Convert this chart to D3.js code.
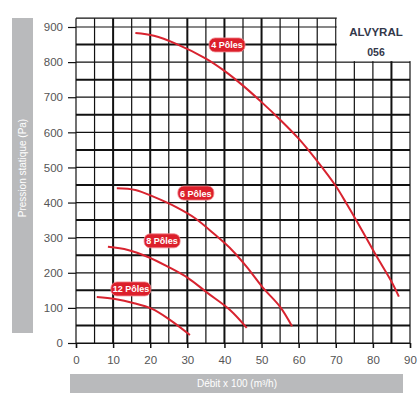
<!DOCTYPE html>
<html>
<head>
<meta charset="utf-8">
<script src="https://cdn.jsdelivr.net/npm/d3@7"></script>
<style>
  body { margin: 0; background: #fff; }
  svg { display: block; font-family: "Liberation Sans", Arial, sans-serif; }
</style>
</head>
<body>
<svg id="main-svg" width="420" height="393"></svg>
<script>
// data (debit x100 m3/h, pression Pa)
var xTicks = [0, 10, 20, 30, 40, 50, 60, 70, 80, 90],
	yTicks = [0, 100, 200, 300, 400, 500, 600, 700, 800, 900],
	thickX = [10, 20, 30, 40, 50, 85],
	thickY = [50, 150, 250, 350, 450, 550, 650, 750, 850];

var curve4 = [[16, 883], [21, 875], [27, 852], [35, 810], [40, 775], [45, 733], [50, 686], [55, 636], [60, 582], [65, 518], [70, 447], [73, 395], [77, 322], [81, 247], [85, 175], [87, 132]],
	curve6 = [[11, 441], [16, 436], [21, 416], [27, 387], [32, 356], [37.5, 308], [42, 265], [46, 217], [50.4, 157], [55, 103], [58.2, 48]],
	curve8 = [[8.6, 274], [14, 265], [19.4, 245], [24.8, 217], [30.2, 185], [35.5, 142], [41.5, 94], [46, 43]],
	curve12 = [[5.6, 131], [10.5, 125], [15.4, 114], [20.5, 97], [25.3, 66], [30.7, 23]];

var curveNames = ['4 Pôles', '6 Pôles', '8 Pôles', '12 Pôles'],
	labelPos = [[40.7, 849], [32.3, 427], [23.2, 291], [14.8, 154]];

var svg = d3.select('svg#main-svg'),
	x = d3.scaleLinear().domain([0, 90]).range([76, 410]),
	y = d3.scaleLinear().domain([0, 900]).range([343, 27]),
	yTop = y(925);

// grid, every 5 on x and every 50 on y
var grid = svg.append('g').attr('class', 'grid');

grid.selectAll('line.v')
	.data(d3.range(0, 91, 5))
	.enter().append('line')
	.attr('x1', function(d) { return x(d); })
	.attr('x2', function(d) { return x(d); })
	.attr('y1', yTop)
	.attr('y2', y(0))
	.attr('stroke', '#111')
	.attr('stroke-width', function(d) { return thickX.indexOf(d) >= 0 ? 2 : 1.2; });

grid.selectAll('line.h')
	.data(d3.range(0, 901, 50).concat([925]))
	.enter().append('line')
	.attr('x1', x(0))
	.attr('x2', x(90))
	.attr('y1', function(d) { return y(d); })
	.attr('y2', function(d) { return y(d); })
	.attr('stroke', '#111')
	.attr('stroke-width', function(d) { return thickY.indexOf(d) >= 0 ? 2 : 1.2; });

// model box top right
svg.append('rect')
	.attr('x', x(70) + 1)
	.attr('y', 0)
	.attr('width', 420 - x(70))
	.attr('height', y(800) - 1)
	.attr('fill', '#fff');

svg.append('text')
	.attr('x', 376).attr('y', 36)
	.attr('text-anchor', 'middle')
	.attr('font-size', 11.5).attr('font-weight', 'bold')
	.attr('fill', '#33384a')
	.text('ALVYRAL');
svg.append('text')
	.attr('x', 376).attr('y', 56)
	.attr('text-anchor', 'middle')
	.attr('font-size', 10.5).attr('font-weight', 'bold')
	.attr('fill', '#33384a')
	.text('056');

// axes
var xAxis = svg.append('g')
	.attr('transform', 'translate(0,' + y(0) + ')')
	.call(d3.axisBottom(x).tickValues(xTicks).tickSize(5).tickPadding(8).tickFormat(d3.format('d')));
xAxis.select('.domain').attr('stroke', '#111').attr('stroke-width', 1.2);
xAxis.selectAll('.tick line').attr('stroke', '#111').attr('stroke-width', 1.5);
xAxis.selectAll('.tick text').attr('font-size', 11.5).attr('fill', '#555').attr('font-family', '"Liberation Sans", Arial, sans-serif');

var yAxis = svg.append('g')
	.attr('transform', 'translate(' + x(0) + ',0)')
	.call(d3.axisLeft(y).tickValues(yTicks).tickSize(8).tickPadding(5).tickFormat(d3.format('d')));
yAxis.select('.domain').remove();
yAxis.selectAll('.tick line').attr('stroke', '#111').attr('stroke-width', 1.2);
yAxis.selectAll('.tick text').attr('font-size', 11.5).attr('fill', '#555').attr('font-family', '"Liberation Sans", Arial, sans-serif');

// axis title bars
svg.append('rect')
	.attr('x', 12).attr('y', 18).attr('width', 21).attr('height', 315)
	.attr('fill', '#b9babc');
svg.append('text')
	.attr('transform', 'translate(26,168) rotate(-90)')
	.attr('text-anchor', 'middle')
	.attr('font-size', 10).attr('fill', '#fff')
	.text('Pression statique (Pa)');

svg.append('rect')
	.attr('x', 70).attr('y', 374).attr('width', 333).attr('height', 19)
	.attr('fill', '#b9babc');
svg.append('text')
	.attr('x', 237).attr('y', 387)
	.attr('text-anchor', 'middle')
	.attr('font-size', 10).attr('fill', '#fff')
	.text('Débit x 100 (m³/h)');

// curves
var line = d3.line()
	.x(function(d) { return x(d[0]); })
	.y(function(d) { return y(d[1]); })
	.curve(d3.curveCatmullRom.alpha(0.5));

svg.append('g').attr('class', 'curves')
	.selectAll('path')
	.data([curve4, curve6, curve8, curve12])
	.enter().append('path')
	.attr('d', line)
	.attr('fill', 'none')
	.attr('stroke', '#d8232f')
	.attr('stroke-width', 2);

// pill labels
var labels = svg.append('g').attr('class', 'labels')
	.selectAll('g')
	.data(curveNames)
	.enter().append('g')
	.attr('transform', function(d, i) {
		return 'translate(' + x(labelPos[i][0]) + ',' + y(labelPos[i][1]) + ')';
	});

labels.append('rect')
	.attr('x', function(d) { return d.length > 7 ? -20 : -18; })
	.attr('y', -7)
	.attr('width', function(d) { return d.length > 7 ? 40 : 36; })
	.attr('height', 14)
	.attr('rx', 6)
	.attr('fill', '#dc1f2b')
	.attr('stroke', '#f08a90')
	.attr('stroke-width', 0.8);

labels.append('text')
	.attr('text-anchor', 'middle')
	.attr('y', 3.5)
	.attr('font-size', 9).attr('font-weight', 'bold')
	.attr('fill', '#fff')
	.text(function(d) { return d; });
</script>
</body>
</html>
